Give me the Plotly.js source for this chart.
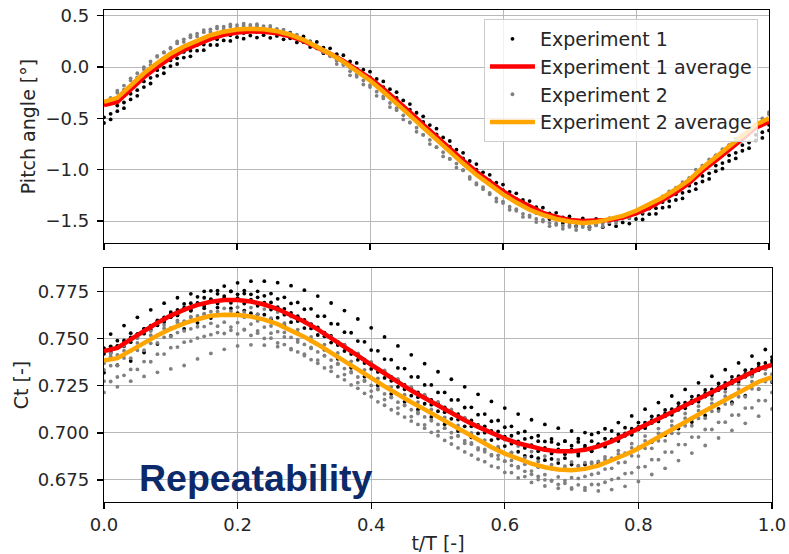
<!DOCTYPE html>
<html>
<head>
<meta charset="utf-8">
<script src="https://cdn.plot.ly/plotly-3.0.1.min.js"></script>
<style>html,body{margin:0;padding:0;background:#fff;}#chart{width:789px;height:554px;}</style>
</head>
<body>
<div id="chart"></div>
<script>
// ---- time grids (t/T) ----
const tA = [0,0.02,0.04,0.06,0.08,0.1,0.12,0.14,0.16,0.18,0.2,0.22,0.24,0.26,0.28,0.3,0.32,0.34,0.36,0.38,0.4,0.42,0.44,0.46,0.48,0.5,0.52,0.54,0.56,0.58,0.6,0.62,0.64,0.66,0.68,0.7,0.72,0.74,0.76,0.78,0.8,0.82,0.84,0.86,0.88,0.9,0.92,0.94,0.96,0.98,1];
const tB = [0.01,0.03,0.05,0.07,0.09,0.11,0.13,0.15,0.17,0.19,0.21,0.23,0.25,0.27,0.29,0.31,0.33,0.35,0.37,0.39,0.41,0.43,0.45,0.47,0.49,0.51,0.53,0.55,0.57,0.59,0.61,0.63,0.65,0.67,0.69,0.71,0.73,0.75,0.77,0.79,0.81,0.83,0.85,0.87,0.89,0.91,0.93,0.95,0.97,0.99];

// ---- pitch angle averages (on tA) ----
const pitchAvg1 = [-0.37,-0.34,-0.22,-0.10,0.00,0.09,0.165,0.225,0.275,0.315,0.337,0.347,0.345,0.33,0.30,0.255,0.195,0.13,0.06,-0.02,-0.11,-0.21,-0.32,-0.44,-0.56,-0.68,-0.80,-0.91,-1.02,-1.12,-1.21,-1.29,-1.36,-1.42,-1.46,-1.49,-1.50,-1.50,-1.49,-1.465,-1.425,-1.37,-1.30,-1.22,-1.13,-1.01,-0.91,-0.81,-0.70,-0.59,-0.534];
const pitchAvg2 = [-0.34,-0.30,-0.18,-0.06,0.04,0.13,0.20,0.26,0.31,0.345,0.365,0.373,0.368,0.35,0.315,0.265,0.20,0.13,0.05,-0.04,-0.13,-0.24,-0.35,-0.47,-0.59,-0.71,-0.83,-0.94,-1.05,-1.15,-1.24,-1.32,-1.39,-1.44,-1.48,-1.505,-1.518,-1.51,-1.485,-1.45,-1.40,-1.34,-1.27,-1.19,-1.10,-0.98,-0.88,-0.78,-0.67,-0.56,-0.50];

// ---- pitch angle cycles, experiment 1 (a,d on tA; b,c on tB) ----
const pitchExp1_a = [-0.545,-0.43,-0.315,-0.195,-0.085,0.01,0.093,0.16,0.215,0.26,0.291,0.307,0.311,0.303,0.28,0.243,0.19,0.128,0.06,-0.015,-0.10,-0.195,-0.30,-0.415,-0.535,-0.655,-0.775,-0.89,-1.00,-1.105,-1.20,-1.285,-1.36,-1.425,-1.475,-1.51,-1.53,-1.535,-1.53,-1.513,-1.48,-1.433,-1.37,-1.295,-1.21,-1.115,-1.015,-0.915,-0.815,-0.715,-0.617];
const pitchExp1_b = [-0.455,-0.345,-0.225,-0.105,-0.005,0.085,0.16,0.22,0.27,0.31,0.332,0.342,0.34,0.325,0.295,0.25,0.19,0.125,0.055,-0.025,-0.115,-0.215,-0.325,-0.445,-0.565,-0.685,-0.805,-0.915,-1.025,-1.125,-1.215,-1.295,-1.365,-1.425,-1.465,-1.495,-1.505,-1.505,-1.495,-1.47,-1.43,-1.375,-1.305,-1.225,-1.135,-1.035,-0.935,-0.835,-0.735,-0.635];
const pitchExp1_c = [-0.51,-0.40,-0.28,-0.16,-0.06,0.03,0.105,0.165,0.215,0.255,0.277,0.287,0.285,0.27,0.24,0.195,0.135,0.07,0.0,-0.08,-0.17,-0.27,-0.38,-0.50,-0.62,-0.74,-0.86,-0.97,-1.08,-1.18,-1.27,-1.35,-1.42,-1.48,-1.52,-1.55,-1.56,-1.56,-1.55,-1.525,-1.485,-1.43,-1.36,-1.28,-1.19,-1.09,-0.99,-0.89,-0.79,-0.69];
const pitchExp1_d = [-0.49,-0.375,-0.26,-0.14,-0.03,0.065,0.148,0.215,0.27,0.315,0.346,0.362,0.366,0.358,0.335,0.298,0.245,0.183,0.115,0.04,-0.045,-0.14,-0.245,-0.36,-0.48,-0.60,-0.72,-0.835,-0.945,-1.05,-1.145,-1.23,-1.305,-1.37,-1.42,-1.455,-1.475,-1.48,-1.475,-1.458,-1.425,-1.378,-1.315,-1.24,-1.155,-1.06,-0.96,-0.86,-0.76,-0.66,-0.562];
// ---- pitch angle cycles, experiment 2 ----
const pitchExp2_a = [-0.34,-0.23,-0.11,0.00,0.11,0.19,0.27,0.325,0.368,0.395,0.409,0.411,0.399,0.373,0.33,0.273,0.19,0.115,0.03,-0.075,-0.175,-0.285,-0.40,-0.54,-0.66,-0.78,-0.895,-1.005,-1.13,-1.225,-1.31,-1.385,-1.445,-1.49,-1.523,-1.542,-1.544,-1.528,-1.498,-1.455,-1.40,-1.335,-1.26,-1.175,-1.08,-0.96,-0.86,-0.76,-0.66,-0.56,-0.44];
const pitchExp2_b = [-0.30,-0.18,-0.06,0.055,0.145,0.23,0.29,0.34,0.375,0.395,0.403,0.398,0.38,0.345,0.295,0.23,0.145,0.065,-0.04,-0.13,-0.24,-0.35,-0.47,-0.59,-0.71,-0.83,-0.94,-1.07,-1.17,-1.28,-1.36,-1.43,-1.48,-1.52,-1.545,-1.558,-1.55,-1.525,-1.49,-1.44,-1.38,-1.31,-1.21,-1.12,-1.00,-0.90,-0.80,-0.70,-0.60,-0.50];
const pitchExp2_c = [-0.34,-0.22,-0.10,0.02,0.14,0.25,0.31,0.36,0.395,0.415,0.423,0.418,0.40,0.365,0.315,0.25,0.15,0.03,-0.08,-0.17,-0.28,-0.39,-0.51,-0.63,-0.75,-0.87,-0.98,-1.09,-1.19,-1.31,-1.39,-1.46,-1.51,-1.55,-1.575,-1.588,-1.58,-1.555,-1.52,-1.47,-1.41,-1.34,-1.23,-1.14,-1.04,-0.94,-0.84,-0.74,-0.64,-0.54];
const pitchExp2_d = [-0.36,-0.25,-0.13,-0.02,0.10,0.18,0.245,0.30,0.343,0.37,0.384,0.386,0.374,0.348,0.305,0.248,0.18,0.105,0.02,-0.095,-0.195,-0.305,-0.42,-0.54,-0.66,-0.78,-0.895,-1.005,-1.145,-1.24,-1.325,-1.40,-1.46,-1.505,-1.538,-1.557,-1.559,-1.543,-1.513,-1.47,-1.415,-1.35,-1.275,-1.19,-1.095,-0.96,-0.86,-0.76,-0.66,-0.56,-0.46];

// ---- Ct averages (on tA) ----
const ctAvg1 = [0.7435,0.7452,0.7497,0.7542,0.7585,0.7623,0.7655,0.7680,0.7697,0.7706,0.7706,0.7698,0.7682,0.7658,0.7627,0.7590,0.7550,0.7505,0.7458,0.7410,0.7362,0.7315,0.7268,0.7225,0.7185,0.7145,0.7105,0.7067,0.7032,0.7000,0.6970,0.6945,0.6925,0.6910,0.6902,0.6902,0.6910,0.6928,0.6955,0.6988,0.7022,0.7058,0.7093,0.7128,0.7163,0.7198,0.7233,0.7268,0.7303,0.7340,0.7361];
const ctAvg2 = [0.7385,0.7397,0.7437,0.7479,0.7518,0.7553,0.7582,0.7604,0.7622,0.7628,0.7626,0.7618,0.7602,0.7578,0.7547,0.7510,0.7470,0.7427,0.7382,0.7337,0.7292,0.7247,0.7203,0.7163,0.7125,0.7085,0.7041,0.6999,0.6960,0.6924,0.6890,0.6861,0.6837,0.6818,0.6806,0.6802,0.6809,0.6826,0.6852,0.6884,0.6917,0.6958,0.6998,0.7038,0.7078,0.7118,0.7156,0.7194,0.7232,0.7272,0.7296];

// ---- Ct cycles, experiment 1 (a,c,e,g on tA; b,d,f,h on tB) ----
const ctExp1_a = [0.7450,0.7490,0.7530,0.7552,0.7597,0.7642,0.7685,0.7723,0.7755,0.7780,0.7797,0.7806,0.7806,0.7798,0.7782,0.7758,0.7727,0.7690,0.7650,0.7605,0.7558,0.7510,0.7462,0.7415,0.7368,0.7325,0.7285,0.7245,0.7205,0.7167,0.7132,0.7100,0.7070,0.7045,0.7025,0.7010,0.7002,0.7002,0.7010,0.7028,0.7055,0.7088,0.7122,0.7158,0.7193,0.7228,0.7263,0.7298,0.7333,0.7368,0.7403];
const ctExp1_b = [0.7460,0.7491,0.7525,0.7570,0.7614,0.7654,0.7689,0.7718,0.7739,0.7752,0.7756,0.7752,0.7740,0.7720,0.7693,0.7659,0.7620,0.7578,0.7532,0.7484,0.7436,0.7389,0.7342,0.7297,0.7255,0.7215,0.7175,0.7136,0.7100,0.7066,0.7035,0.7008,0.6985,0.6968,0.6956,0.6952,0.6956,0.6969,0.6992,0.7022,0.7055,0.7090,0.7126,0.7161,0.7196,0.7231,0.7266,0.7301,0.7336,0.7372];
const ctExp1_c = [0.7440,0.7462,0.7507,0.7552,0.7595,0.7633,0.7665,0.7690,0.7707,0.7716,0.7716,0.7708,0.7692,0.7668,0.7637,0.7600,0.7560,0.7515,0.7468,0.7420,0.7372,0.7325,0.7278,0.7235,0.7195,0.7155,0.7115,0.7077,0.7042,0.7010,0.6980,0.6955,0.6935,0.6920,0.6912,0.6912,0.6920,0.6938,0.6965,0.6998,0.7032,0.7068,0.7103,0.7138,0.7173,0.7208,0.7243,0.7278,0.7313,0.7350,0.7385];
const ctExp1_d = [0.7435,0.7480,0.7524,0.7564,0.7599,0.7628,0.7649,0.7662,0.7666,0.7662,0.7650,0.7630,0.7603,0.7569,0.7530,0.7488,0.7442,0.7394,0.7346,0.7299,0.7252,0.7207,0.7165,0.7125,0.7085,0.7046,0.7010,0.6976,0.6945,0.6918,0.6895,0.6878,0.6866,0.6862,0.6866,0.6879,0.6902,0.6932,0.6965,0.7000,0.7036,0.7071,0.7106,0.7141,0.7176,0.7211,0.7246,0.7282,0.7318,0.7353];
const ctExp1_e = [0.7320,0.7360,0.7382,0.7427,0.7472,0.7515,0.7553,0.7585,0.7610,0.7627,0.7636,0.7636,0.7628,0.7612,0.7588,0.7557,0.7520,0.7480,0.7435,0.7388,0.7340,0.7292,0.7245,0.7198,0.7155,0.7115,0.7075,0.7035,0.6997,0.6962,0.6930,0.6900,0.6875,0.6855,0.6840,0.6832,0.6832,0.6840,0.6858,0.6885,0.6918,0.6952,0.6988,0.7023,0.7058,0.7093,0.7128,0.7163,0.7198,0.7233,0.7270];
const ctExp1_f = [0.7525,0.7570,0.7614,0.7654,0.7689,0.7718,0.7739,0.7752,0.7756,0.7752,0.7740,0.7720,0.7693,0.7659,0.7620,0.7578,0.7532,0.7484,0.7436,0.7389,0.7342,0.7297,0.7255,0.7215,0.7175,0.7136,0.7100,0.7066,0.7035,0.7008,0.6985,0.6968,0.6956,0.6952,0.6956,0.6969,0.6992,0.7022,0.7055,0.7090,0.7126,0.7161,0.7196,0.7231,0.7266,0.7301,0.7336,0.7372,0.7408,0.7443];
const ctExp1_g = [0.7420,0.7460,0.7482,0.7527,0.7572,0.7615,0.7653,0.7685,0.7710,0.7727,0.7736,0.7736,0.7728,0.7712,0.7688,0.7657,0.7620,0.7580,0.7535,0.7488,0.7440,0.7392,0.7345,0.7298,0.7255,0.7215,0.7175,0.7135,0.7097,0.7062,0.7030,0.7000,0.6975,0.6955,0.6940,0.6932,0.6932,0.6940,0.6958,0.6985,0.7018,0.7052,0.7088,0.7123,0.7158,0.7193,0.7228,0.7263,0.7298,0.7333,0.7370];
const ctExp1_h = [0.7426,0.7460,0.7505,0.7549,0.7589,0.7624,0.7653,0.7674,0.7687,0.7691,0.7687,0.7675,0.7655,0.7628,0.7594,0.7555,0.7513,0.7467,0.7419,0.7371,0.7324,0.7277,0.7232,0.7190,0.7150,0.7110,0.7071,0.7035,0.7001,0.6970,0.6943,0.6920,0.6903,0.6891,0.6887,0.6891,0.6904,0.6927,0.6957,0.6990,0.7025,0.7061,0.7096,0.7131,0.7166,0.7201,0.7236,0.7271,0.7307,0.7343];

// ---- Ct cycles, experiment 2 ----
const ctExp2_a = [0.7215,0.7245,0.7275,0.7300,0.7322,0.7340,0.7358,0.7393,0.7422,0.7444,0.7462,0.7468,0.7466,0.7458,0.7442,0.7418,0.7387,0.7350,0.7310,0.7267,0.7222,0.7177,0.7132,0.7087,0.7043,0.7008,0.6975,0.6945,0.6911,0.6879,0.6850,0.6814,0.6780,0.6751,0.6727,0.6708,0.6696,0.6692,0.6699,0.6716,0.6742,0.6779,0.6812,0.6853,0.6893,0.6933,0.6973,0.7013,0.7051,0.7089,0.7127];
const ctExp2_b = [0.7273,0.7306,0.7337,0.7378,0.7419,0.7456,0.7488,0.7513,0.7533,0.7545,0.7547,0.7542,0.7530,0.7510,0.7483,0.7449,0.7410,0.7369,0.7325,0.7280,0.7235,0.7190,0.7145,0.7103,0.7064,0.7025,0.6983,0.6940,0.6900,0.6862,0.6827,0.6796,0.6769,0.6748,0.6732,0.6724,0.6726,0.6738,0.6759,0.6788,0.6821,0.6858,0.6898,0.6938,0.6978,0.7018,0.7057,0.7095,0.7133,0.7172];
const ctExp2_c = [0.7335,0.7357,0.7397,0.7439,0.7478,0.7513,0.7542,0.7564,0.7582,0.7588,0.7586,0.7578,0.7562,0.7538,0.7507,0.7470,0.7430,0.7387,0.7342,0.7297,0.7252,0.7207,0.7163,0.7123,0.7085,0.7045,0.7001,0.6959,0.6920,0.6884,0.6850,0.6821,0.6797,0.6778,0.6766,0.6762,0.6769,0.6786,0.6812,0.6844,0.6877,0.6918,0.6958,0.6998,0.7038,0.7078,0.7116,0.7154,0.7192,0.7232,0.7275];
const ctExp2_d = [0.7422,0.7463,0.7504,0.7541,0.7573,0.7598,0.7618,0.7630,0.7632,0.7627,0.7615,0.7595,0.7568,0.7534,0.7495,0.7454,0.7410,0.7365,0.7320,0.7275,0.7230,0.7188,0.7149,0.7110,0.7068,0.7025,0.6985,0.6947,0.6912,0.6881,0.6854,0.6833,0.6817,0.6809,0.6811,0.6823,0.6844,0.6873,0.6906,0.6943,0.6983,0.7023,0.7063,0.7103,0.7142,0.7180,0.7218,0.7257,0.7299,0.7338];
const ctExp2_e = [0.7370,0.7415,0.7437,0.7477,0.7519,0.7558,0.7593,0.7622,0.7644,0.7662,0.7668,0.7666,0.7658,0.7642,0.7618,0.7587,0.7550,0.7510,0.7467,0.7422,0.7377,0.7332,0.7287,0.7243,0.7203,0.7165,0.7125,0.7081,0.7039,0.7000,0.6964,0.6930,0.6901,0.6877,0.6858,0.6846,0.6842,0.6849,0.6866,0.6892,0.6924,0.6957,0.6998,0.7038,0.7078,0.7118,0.7158,0.7196,0.7234,0.7272,0.7312];
const ctExp2_f = [0.7357,0.7398,0.7439,0.7476,0.7508,0.7533,0.7553,0.7565,0.7567,0.7562,0.7550,0.7530,0.7503,0.7469,0.7430,0.7389,0.7345,0.7300,0.7255,0.7210,0.7165,0.7123,0.7084,0.7045,0.7003,0.6960,0.6920,0.6882,0.6847,0.6816,0.6789,0.6768,0.6752,0.6744,0.6746,0.6758,0.6779,0.6808,0.6841,0.6878,0.6918,0.6958,0.6998,0.7038,0.7077,0.7115,0.7153,0.7192,0.7234,0.7273];
const ctExp2_g = [0.7275,0.7297,0.7337,0.7379,0.7418,0.7453,0.7482,0.7504,0.7522,0.7528,0.7526,0.7518,0.7502,0.7478,0.7447,0.7410,0.7370,0.7327,0.7282,0.7237,0.7192,0.7147,0.7103,0.7063,0.7025,0.6985,0.6941,0.6899,0.6860,0.6824,0.6790,0.6761,0.6737,0.6718,0.6706,0.6702,0.6709,0.6726,0.6752,0.6784,0.6817,0.6858,0.6898,0.6938,0.6978,0.7018,0.7056,0.7094,0.7132,0.7172,0.7215];
const ctExp2_h = [0.7406,0.7437,0.7478,0.7519,0.7556,0.7588,0.7613,0.7633,0.7645,0.7647,0.7642,0.7630,0.7610,0.7583,0.7549,0.7510,0.7469,0.7425,0.7380,0.7335,0.7290,0.7245,0.7203,0.7164,0.7125,0.7083,0.7040,0.7000,0.6962,0.6927,0.6896,0.6869,0.6848,0.6832,0.6824,0.6826,0.6838,0.6859,0.6888,0.6921,0.6958,0.6998,0.7038,0.7078,0.7118,0.7157,0.7195,0.7233,0.7272,0.7314];

// ---- ticks ----
const xTickVals = [0,0.2,0.4,0.6,0.8,1.0];
const xTickText = ['0.0','0.2','0.4','0.6','0.8','1.0'];
const pitchTickVals = [-1.5,-1.0,-0.5,0.0,0.5];
const pitchTickText = ['\u22121.5','\u22121.0','\u22120.5','0.0','0.5'];
const ctTickVals = [0.675,0.700,0.725,0.750,0.775];
const ctTickText = ['0.675','0.700','0.725','0.750','0.775'];

// ---- assemble ----
const xP = [].concat(tA, tB, tB, tA);
const yP1 = [].concat(pitchExp1_a, pitchExp1_b, pitchExp1_c, pitchExp1_d);
const yP2 = [].concat(pitchExp2_a, pitchExp2_b, pitchExp2_c, pitchExp2_d);
const xC = [].concat(tA, tB, tA, tB, tA, tB, tA, tB);
const yC1 = [].concat(ctExp1_a, ctExp1_b, ctExp1_c, ctExp1_d, ctExp1_e, ctExp1_f, ctExp1_g, ctExp1_h);
const yC2 = [].concat(ctExp2_a, ctExp2_b, ctExp2_c, ctExp2_d, ctExp2_e, ctExp2_f, ctExp2_g, ctExp2_h);

const dot1 = {color:'#000000', size:3.8};
const dot2 = {color:'#808080', size:3.8};
const RED = '#ff0000', ORANGE = '#ffa500', LW = 4.5;

const data = [
  {type:'scatter', mode:'markers', x:xC, y:yC1, xaxis:'x2', yaxis:'y2', marker:dot1, showlegend:false, hoverinfo:'skip'},
  {type:'scatter', mode:'markers', x:xP, y:yP1, xaxis:'x', yaxis:'y', marker:dot1, name:'Experiment 1', legendrank:1, hoverinfo:'skip'},
  {type:'scatter', mode:'markers', x:xC, y:yC2, xaxis:'x2', yaxis:'y2', marker:dot2, showlegend:false, hoverinfo:'skip'},
  {type:'scatter', mode:'markers', x:xP, y:yP2, xaxis:'x', yaxis:'y', marker:dot2, name:'Experiment 2', legendrank:3, hoverinfo:'skip'},
  {type:'scatter', mode:'lines', x:tA, y:pitchAvg1, xaxis:'x', yaxis:'y', line:{color:RED, width:LW}, name:'Experiment 1 average', legendrank:2},
  {type:'scatter', mode:'lines', x:tA, y:ctAvg1, xaxis:'x2', yaxis:'y2', line:{color:RED, width:LW}, showlegend:false},
  {type:'scatter', mode:'lines', x:tA, y:pitchAvg2, xaxis:'x', yaxis:'y', line:{color:ORANGE, width:LW}, name:'Experiment 2 average', legendrank:4},
  {type:'scatter', mode:'lines', x:tA, y:ctAvg2, xaxis:'x2', yaxis:'y2', line:{color:ORANGE, width:LW}, showlegend:false}
];

const axisCommon = {
  showline:true, linecolor:'#000000', linewidth:1.2, mirror:true,
  ticks:'outside', ticklen:6, tickwidth:1.2, tickcolor:'#000000',
  showgrid:true, gridcolor:'#b8b8b8', gridwidth:1, zeroline:false,
  tickfont:{family:'DejaVu Sans', size:18, color:'#262626'}
};

const layout = {
  width:789, height:554,
  margin:{l:104, r:17, t:10, b:52},
  paper_bgcolor:'#ffffff', plot_bgcolor:'#ffffff',
  font:{family:'DejaVu Sans', size:18, color:'#262626'},
  showlegend:true,
  legend:{x:0.979, xanchor:'right', y:0.9817, yanchor:'top',
          bgcolor:'rgba(255,255,255,0.8)', bordercolor:'#cccccc', borderwidth:1,
          font:{family:'DejaVu Sans', size:19, color:'#262626'}, itemwidth:45, tracegroupgap:0},
  xaxis:Object.assign({}, axisCommon, {domain:[0,0.9955], range:[0,1], anchor:'y', tickvals:xTickVals, showticklabels:false}),
  yaxis:Object.assign({}, axisCommon, {domain:[0.5264,1], range:[-1.714,0.556], anchor:'x', tickvals:pitchTickVals, ticktext:pitchTickText,
          ticklabelstandoff:4,
          title:{text:'Pitch angle [°]', standoff:4, font:{family:'DejaVu Sans', size:19, color:'#262626'}}}),
  xaxis2:Object.assign({}, axisCommon, {domain:[0,1], range:[0,1], anchor:'y2', tickvals:xTickVals, ticktext:xTickText,
          title:{text:'t/T [-]', standoff:10, font:{family:'DejaVu Sans', size:19, color:'#262626'}}}),
  yaxis2:Object.assign({}, axisCommon, {domain:[0,0.4756], range:[0.6633,0.7876], anchor:'x2', tickvals:ctTickVals, ticktext:ctTickText,
          ticklabelstandoff:4,
          title:{text:'Ct [-]', standoff:4, font:{family:'DejaVu Sans', size:19, color:'#262626'}}}),
  annotations:[{
    text:'Repeatability', xref:'paper', yref:'paper', x:0.0494, y:0.0488,
    xanchor:'left', yanchor:'middle', showarrow:false,
    font:{family:'Liberation Sans, Arial, sans-serif', size:37.5, color:'#0c2a6a', weight:700}
  }]
};

Plotly.newPlot('chart', data, layout, {staticPlot:true, displayModeBar:false});
</script>
</body>
</html>
